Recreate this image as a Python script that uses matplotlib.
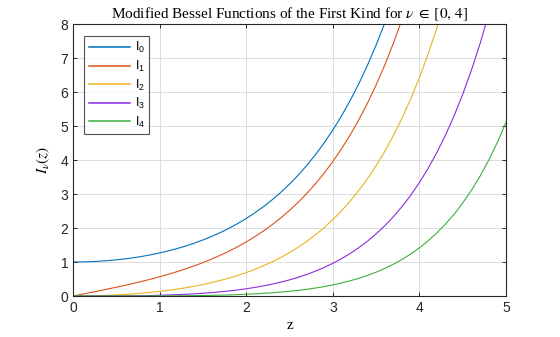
import matplotlib
matplotlib.use("Agg")
import matplotlib.pyplot as plt

plt.rcParams['mathtext.fontset'] = 'stix'
plt.rcParams['font.family'] = ['Liberation Sans', 'DejaVu Sans']

# sample points and I_nu(z) values, nu = 0..4
z = [0.0, 0.1, 0.2, 0.3, 0.4, 0.5, 0.6, 0.7, 0.8, 0.9,
     1.0, 1.1, 1.2, 1.3, 1.4, 1.5, 1.6, 1.7, 1.8, 1.9,
     2.0, 2.1, 2.2, 2.3, 2.4, 2.5, 2.6, 2.7, 2.8, 2.9,
     3.0, 3.1, 3.2, 3.3, 3.4, 3.5, 3.6, 3.7, 3.8, 3.9,
     4.0, 4.1, 4.2, 4.3, 4.4, 4.5, 4.6, 4.7, 4.8, 4.9, 5.0]
i0 = [1.0, 1.0025, 1.0100, 1.0226, 1.0404, 1.0635, 1.0920, 1.1263, 1.1665, 1.2130,
      1.2661, 1.3262, 1.3937, 1.4693, 1.5534, 1.6467, 1.7500, 1.8640, 1.9896, 2.1277,
      2.2796, 2.4463, 2.6291, 2.8296, 3.0493, 3.2898, 3.5533, 3.8417, 4.1573, 4.5027,
      4.8808, 5.2945, 5.7472, 6.2426, 6.7848, 7.3782, 8.0277, 8.7386, 9.5169, 10.3690,
      11.3019, 12.3236, 13.4425, 14.6680, 16.0104, 17.4812, 19.0926, 20.8585, 22.7937,
      24.9148, 27.2399]
i1 = [0.0, 0.0501, 0.1005, 0.1517, 0.2040, 0.2579, 0.3137, 0.3719, 0.4329, 0.4971,
      0.5652, 0.6375, 0.7147, 0.7973, 0.8861, 0.9817, 1.0848, 1.1963, 1.3172, 1.4482,
      1.5906, 1.7455, 1.9141, 2.0978, 2.2981, 2.5167, 2.7554, 3.0161, 3.3011, 3.6126,
      3.9534, 4.3262, 4.7343, 5.1810, 5.6701, 6.2058, 6.7927, 7.4357, 8.1404, 8.9128,
      9.7595, 10.6877, 11.7056, 12.8219, 14.0462, 15.3892, 16.8626, 18.4791, 20.2532,
      22.1993, 24.3356]
i2 = [0.0, 0.0013, 0.0050, 0.0113, 0.0203, 0.0319, 0.0464, 0.0638, 0.0844, 0.1083,
      0.1357, 0.1671, 0.2026, 0.2426, 0.2875, 0.3378, 0.3940, 0.4565, 0.5260, 0.6033,
      0.6889, 0.7839, 0.8891, 1.0054, 1.1342, 1.2765, 1.4337, 1.6075, 1.7994, 2.0113,
      2.2452, 2.5034, 2.7883, 3.1027, 3.4495, 3.8320, 4.2540, 4.7193, 5.2325, 5.7983,
      6.4222, 7.1100, 7.8684, 8.7043, 9.6258, 10.6415, 11.7611, 12.9950, 14.3550,
      15.8538, 17.5056]
i3 = [0.0, 0.0000, 0.0002, 0.0006, 0.0013, 0.0026, 0.0046, 0.0074, 0.0111, 0.0160,
      0.0222, 0.0299, 0.0394, 0.0508, 0.0645, 0.0808, 0.0999, 0.1222, 0.1482, 0.1782,
      0.2127, 0.2524, 0.2976, 0.3492, 0.4079, 0.4744, 0.5497, 0.6346, 0.7305, 0.8384,
      0.9598, 1.0960, 1.2492, 1.4202, 1.6119, 1.8264, 2.0661, 2.3338, 2.6326, 2.9658,
      3.3373, 3.7511, 4.2119, 4.7249, 5.2955, 5.9301, 6.6355, 7.4195, 8.2907,
      9.2575, 10.3312]
i4 = [0.0, 0.0000, 0.0000, 0.0000, 0.0001, 0.0002, 0.0003, 0.0006, 0.0011, 0.0018,
      0.0027, 0.0041, 0.0058, 0.0081, 0.0110, 0.0148, 0.0194, 0.0251, 0.0321, 0.0405,
      0.0507, 0.0629, 0.0773, 0.0944, 0.1145, 0.1380, 0.1654, 0.1972, 0.2341, 0.2767,
      0.3257, 0.3821, 0.4466, 0.5205, 0.6049, 0.7011, 0.8105, 0.9347, 1.0758, 1.2355,
      1.4163, 1.6206, 1.8513, 2.1115, 2.4047, 2.7347, 3.1060, 3.5233, 3.9916,
      4.5182, 5.1082]
labels = [r'$\mathregular{I_0}$', r'$\mathregular{I_1}$', r'$\mathregular{I_2}$',
          r'$\mathregular{I_3}$', r'$\mathregular{I_4}$']
colors = ['#0072bd', '#d95319', '#edb120', '#8a2be2', '#3cb03c']

fig = plt.figure(figsize=(5.6, 3.37), dpi=100)
ax = fig.add_axes([73/560, 1-296/337, 433/560, 272/337])

for vals, lab, c in zip([i0, i1, i2, i3, i4], labels, colors):
    ax.plot(z, vals, color=c, lw=0.8, label=lab)

ax.set_xlim(0, 5)
ax.set_ylim(0, 8)
ax.set_xticks(range(6))
ax.set_yticks(range(9))
ax.grid(True, color='#dcdcdc', lw=0.7)
ax.set_axisbelow(True)
ax.tick_params(direction='in', top=True, right=True, labelsize=10,
               length=3, width=0.7, colors='#262626')
for s in ax.spines.values():
    s.set_linewidth(0.8)
    s.set_color('#262626')

serif = ['Liberation Serif', 'DejaVu Serif']
ax.set_title(r'Modified Bessel Functions of the First Kind for $\nu\;\in\;[0,\,4]$',
             family=serif, fontsize=11, pad=4)
ax.set_xlabel('z', family=serif, fontsize=11, labelpad=3)
ax.set_ylabel(r'$I_\nu(z)$', fontsize=11, labelpad=6)

leg = ax.legend(loc='upper left', fontsize=9, fancybox=False,
                handlelength=3.3, handletextpad=0.4, labelspacing=0.28,
                borderpad=0.35, borderaxespad=0,
                bbox_to_anchor=(0.026, 0.956))
leg.get_frame().set_edgecolor('#262626')
leg.get_frame().set_linewidth(0.8)
for ln in leg.get_lines():
    ln.set_linewidth(1.1)

fig.savefig('out.png', dpi=100)
